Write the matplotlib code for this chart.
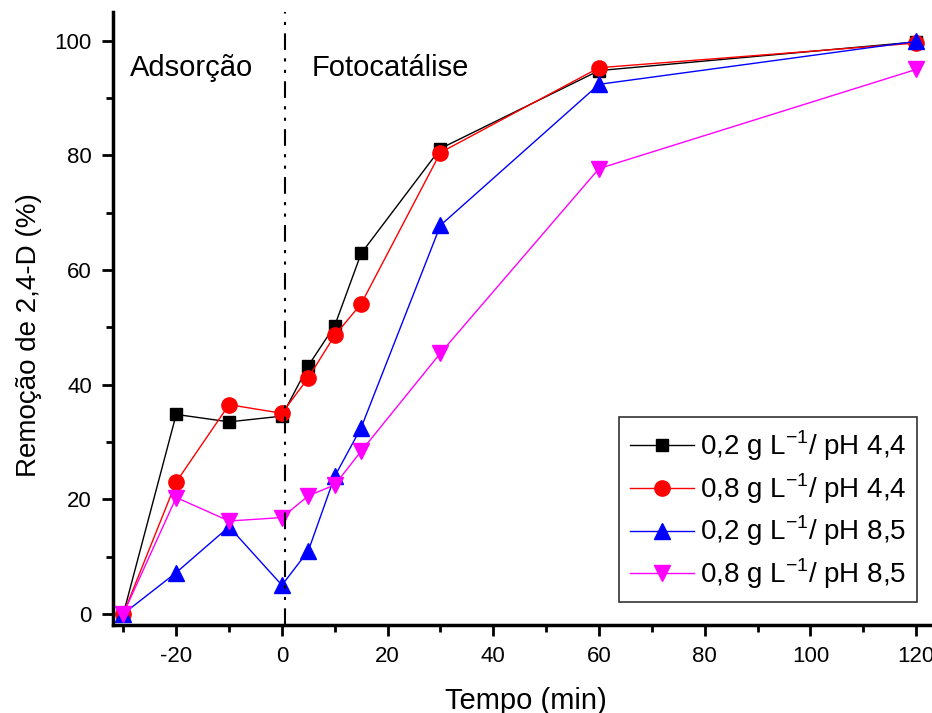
import numpy as np
import matplotlib
matplotlib.use('Agg')
from matplotlib import pyplot as plt
from matplotlib.ticker import MultipleLocator

plt.rcParams['font.family'] = ['Liberation Sans', 'DejaVu Sans']
plt.rcParams['mathtext.fontset'] = 'custom'
plt.rcParams['mathtext.rm'] = 'Liberation Sans'
plt.rcParams['axes.unicode_minus'] = False

# tempo (min)
tempo = [-30, -20, -10, 0, 5, 10, 15, 30, 60, 120]

# remocao de 2,4-D (%)
rem_02_ph44 = [0, 34.8, 33.5, 34.5, 43.3, 50.3, 62.9, 81.2, 94.8, 99.8]
rem_08_ph44 = [0, 23.0, 36.5, 35.0, 41.2, 48.6, 54.1, 80.5, 95.3, 99.6]
rem_02_ph85 = [0, 7.2, 15.2, 5.0, 11.0, 24.0, 32.5, 67.8, 92.4, 99.9]
rem_08_ph85 = [0, 20.3, 16.2, 16.8, 20.6, 22.5, 28.4, 45.5, 77.7, 95.0]

labels = [r'0,2 g L$^{\mathregular{-1}}$/ pH 4,4',
          r'0,8 g L$^{\mathregular{-1}}$/ pH 4,4',
          r'0,2 g L$^{\mathregular{-1}}$/ pH 8,5',
          r'0,8 g L$^{\mathregular{-1}}$/ pH 8,5']

fig = plt.figure(figsize=(9.32, 7.13), dpi=100)
ax = fig.add_axes([0.121, 0.123, 0.879, 0.86])

ax.plot(tempo, rem_02_ph44, color='black', lw=1, marker='s', ms=9, label=labels[0])
ax.plot(tempo, rem_08_ph44, color='red', lw=1, marker='o', ms=11, label=labels[1])
ax.plot(tempo, rem_02_ph85, color='blue', lw=1, marker='^', ms=12, label=labels[2])
ax.plot(tempo, rem_08_ph85, color='magenta', lw=1, marker='v', ms=12, label=labels[3])

# limite adsorcao / fotocatalise
ax.axvline(0.5, color='black', lw=1.5, ls=(0, (8, 4, 1.5, 4, 1.5, 4)))

ax.text(-28.7, 95.3, 'Adsorção', fontsize=21, va='center')
ax.text(5.6, 95.3, 'Fotocatálise', fontsize=21, va='center')

ax.set_xlim(-32, 123)
ax.set_ylim(-2, 105)
ax.xaxis.set_major_locator(MultipleLocator(20))
ax.xaxis.set_minor_locator(MultipleLocator(10))
ax.yaxis.set_major_locator(MultipleLocator(20))
ax.yaxis.set_minor_locator(MultipleLocator(10))

for s in ['top', 'right']:
    ax.spines[s].set_visible(False)
for s in ['left', 'bottom']:
    ax.spines[s].set_linewidth(2.5)

ax.tick_params(which='major', direction='out', length=8, width=2, labelsize=16, pad=7)
ax.tick_params(which='minor', direction='out', length=5, width=2)

ax.set_xlabel('Tempo (min)', fontsize=21)
ax.xaxis.set_label_coords(0.504, -0.1)
ax.set_ylabel('Remoção de 2,4-D (%)', fontsize=20)
ax.yaxis.set_label_coords(-0.086, 0.473)

leg = ax.legend(loc='lower right', bbox_to_anchor=(0.982, 0.0375), fontsize=20, frameon=True,
                fancybox=False, edgecolor='black', handlelength=2.3, handletextpad=0.2,
                borderpad=0.4, labelspacing=0.3, borderaxespad=0)
leg.get_frame().set_linewidth(1.2)

plt.savefig('out.png', dpi=100)
plt.close()
